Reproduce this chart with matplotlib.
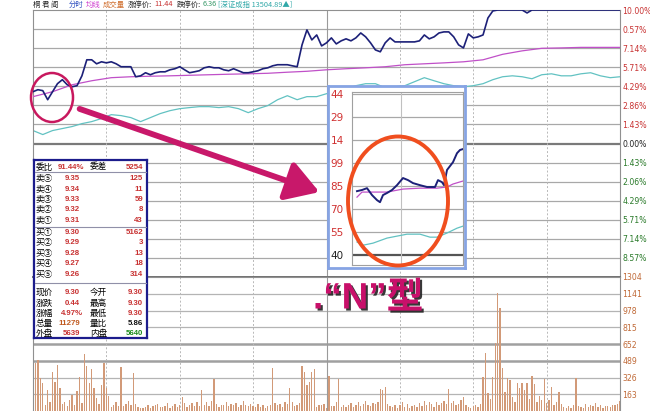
import numpy as np
import matplotlib.pyplot as plt
import matplotlib.patheffects as pe
from matplotlib.patches import Ellipse, FancyArrowPatch

plt.rcParams['font.family'] = ['DejaVu Sans', 'Noto Sans CJK SC']

# ---- data ----
# price line, % change, one point every 2 minutes (241-minute session)
price_pct = [3.88, 4.03, 3.96, 3.28, 3.88, 4.48, 4.78, 4.40, 4.25, 4.33,
             5.07, 6.27, 6.27, 5.97, 6.12, 6.04, 6.12, 5.97, 5.75, 5.75,
             5.75, 5.00, 5.07, 5.30, 5.15, 5.30, 5.37, 5.37, 5.52, 5.60,
             5.75, 5.52, 5.30, 5.37, 5.45, 5.67, 5.75, 5.67, 5.67, 5.52,
             5.45, 5.60, 5.45, 5.30, 5.30, 5.37, 5.45, 5.60, 5.67, 5.82,
             5.90, 5.90, 5.90, 5.82, 5.75, 7.39, 8.51, 7.76, 8.13, 7.31,
             7.54, 7.91, 7.46, 7.69, 7.84, 7.69, 7.91, 8.28, 7.99, 7.54,
             7.01, 6.87, 7.54, 7.91, 7.61, 7.61, 7.61, 7.61, 7.61, 7.69,
             8.13, 7.84, 7.99, 8.28, 8.36, 8.36, 7.99, 7.39, 7.16, 8.21,
             7.91, 7.99, 8.13, 9.40, 9.93, 10.0, 10.0, 10.0, 10.0, 10.0,
             10.0, 9.78, 10.0, 10.0, 10.0, 10.0, 10.0, 10.0, 10.0, 10.0,
             10.0, 10.0, 10.0, 10.0, 10.0, 10.0, 10.0, 10.0, 10.0, 10.0,
             10.0]
# average price line, every 8 minutes
avg_pct = [3.51, 3.88, 4.40, 4.70, 4.93, 5.00, 5.04, 5.07, 5.11, 5.15,
           5.19, 5.22, 5.26, 5.34, 5.41, 5.52, 5.60, 5.67, 5.75, 5.90,
           5.97, 6.04, 6.12, 6.27, 6.68, 6.94, 7.13, 7.16, 7.20, 7.20,
           7.20]
# index line, every 4 minutes
index_pct = [0.97, 0.67, 0.97, 1.12, 1.27, 1.49, 1.64, 1.87, 2.16, 2.09,
             1.94, 1.64, 1.94, 2.24, 2.46, 2.61, 2.69, 2.76, 2.76, 2.69,
             2.76, 2.61, 2.31, 2.61, 2.84, 3.28, 3.58, 3.28, 3.51, 3.51,
             3.73, 3.96, 4.10, 4.33, 4.48, 4.48, 4.18, 4.25, 4.33, 4.63,
             4.93, 4.70, 4.48, 4.33, 4.25, 4.33, 4.48, 4.78, 5.00, 5.07,
             5.00, 4.85, 5.15, 5.22, 5.07, 5.07, 5.22, 5.30, 5.07, 4.93,
             5.00]
# volume per minute
volume = [120, 467, 500, 321, 272, 60, 204, 90, 380, 282,
          448, 224, 70, 88, 45, 110, 156, 60, 195, 331,
          80, 555, 438, 272, 409, 224, 126, 70, 253, 467,
          224, 146, 40, 60, 85, 50, 428, 45, 70, 95,
          55, 370, 70, 35, 30, 25, 40, 55, 30, 45,
          60, 70, 40, 35, 50, 80, 30, 45, 65, 40,
          55, 136, 80, 40, 60, 75, 50, 90, 45, 204,
          60, 85, 50, 95, 311, 70, 40, 60, 55, 90,
          45, 70, 60, 80, 40, 55, 95, 60, 45, 70,
          50, 40, 65, 35, 55, 30, 45, 60, 418, 80,
          55, 70, 40, 90, 65, 224, 85, 50, 60, 75,
          438, 380, 253, 282, 380, 409, 40, 60, 55, 70,
          30, 340, 50, 45, 90, 311, 40, 60, 35, 55,
          75, 40, 60, 85, 50, 70, 95, 60, 45, 80,
          65, 90, 214, 204, 233, 70, 50, 40, 60, 30,
          55, 85, 40, 70, 30, 45, 60, 35, 80, 50,
          95, 60, 85, 70, 40, 90, 60, 75, 100, 65,
          214, 80, 95, 60, 70, 110, 136, 55, 40, 30,
          45, 60, 40, 70, 331, 564, 175, 120, 331, 662,
          1150, 1000, 418, 185, 321, 301, 136, 90, 272, 224,
          272, 204, 272, 120, 340, 263, 90, 150, 110, 311,
          80, 110, 233, 60, 90, 185, 70, 40, 30, 45,
          25, 60, 321, 50, 35, 25, 70, 40, 55, 45,
          78, 40, 60, 30, 45, 50, 35, 55, 60, 70,
          95]

pct_labels = ['10.00%', '0.57%', '7.14%', '5.71%', '4.29%', '2.86%', '1.43%',
              '0.00%', '1.43%', '2.06%', '4.29%', '5.71%', '7.14%', '8.57%']
vol_labels = ['1304', '1141', '978', '815', '652', '489', '326', '163']

# zoomed inset
inset_ticks = ['40', '55', '70', '85', '99', '14', '29', '44']
inset_x = [5, 10, 15, 20, 25, 28, 31, 35, 40, 45, 51, 56, 61, 68, 75, 83, 86,
           90, 92, 95, 98, 101, 105, 108, 111]
inset_price = [2.78, 2.83, 2.91, 2.61, 2.39, 2.30, 2.61, 2.70, 2.83, 3.04, 3.35,
               3.26, 3.13, 3.04, 2.96, 2.96, 3.26, 3.17, 3.04, 3.70, 3.87, 4.04,
               4.43, 4.57, 4.61]
inset_avg_x = [5, 10, 18, 35, 51, 68, 85, 95, 101, 111]
inset_avg = [2.52, 2.74, 2.74, 2.74, 2.87, 2.91, 2.91, 2.96, 3.09, 3.22]
inset_idx_x = [5, 11, 21, 35, 55, 68, 78, 85, 95, 105, 111]
inset_idx = [0.57, 0.43, 0.52, 0.74, 0.91, 0.91, 0.78, 0.78, 0.96, 1.17, 1.26]

# quote panel
book_names = ['卖⑤', '卖④', '卖③', '卖②', '卖①', '买①', '买②', '买③', '买④', '买⑤']
book_prices = ['9.35', '9.34', '9.33', '9.32', '9.31', '9.30', '9.29', '9.28', '9.27', '9.26']
book_vols = ['125', '11', '59', '8', '43', '5162', '3', '13', '18', '314']
stat_names1 = ['现价', '涨跌', '涨幅', '总量', '外盘']
stat_vals1 = ['9.30', '0.44', '4.97%', '11279', '5639']
stat_names2 = ['今开', '最高', '最低', '量比', '内盘']
stat_vals2 = ['9.30', '9.30', '9.30', '5.86', '5640']

W, H = 650, 411
fig = plt.figure(figsize=(6.5, 4.11), dpi=100)
fig.patch.set_facecolor('white')


def box(x0, y0, x1, y1):
    return [x0 / W, 1 - y1 / H, (x1 - x0) / W, (y1 - y0) / H]


RED = '#c83232'
GREEN = '#2a7a2a'
NAVY = '#1c2078'
MAG = '#c050c8'
TEAL = '#62c2c2'
t_all = np.arange(241)

# ---- price panel ----
ax = fig.add_axes(box(33, 10, 620, 277))
ax.set_xlim(0, 240)
ax.set_ylim(-10, 10)
levels = np.linspace(10, -10, 15)
for i, lv in enumerate(levels[1:-1], start=1):
    if i == 7:
        ax.axhline(lv, color='#7a7a7a', lw=1.6, zorder=1)
    else:
        ax.axhline(lv, color='#a8a8a8', lw=0.9, zorder=1)
for tv in [30, 60, 90, 150, 180, 210]:
    ax.axvline(tv, color='#b8b8b8', lw=0.7, ls=(0, (2, 2)), zorder=1)
ax.axvline(120, color='#9a9a9a', lw=0.8, zorder=1)
ax.plot(np.arange(0, 241, 4), index_pct, color=TEAL, lw=0.9, zorder=2)
ax.plot(np.arange(0, 241, 8), avg_pct, color=MAG, lw=0.9, zorder=3)
ax.plot(np.arange(0, 241, 2), price_pct, color=NAVY, lw=1.2, zorder=4)
ax.set_xticks([])
ax.yaxis.tick_right()
ax.set_yticks(levels[:-1])
ax.set_yticklabels(pct_labels)
ax.tick_params(axis='y', length=0, pad=1.5, labelsize=5.6)
for i, lab in enumerate(ax.get_yticklabels()):
    lab.set_color(RED if i < 7 else ('#222222' if i == 7 else GREEN))
for s in ax.spines.values():
    s.set_color('#909090')
    s.set_linewidth(0.8)
ax.spines['bottom'].set_color('#707070')
ax.spines['bottom'].set_linewidth(1.4)

# ---- volume panel ----
axv = fig.add_axes(box(33, 277, 620, 411))
axv.set_xlim(0, 240)
axv.set_ylim(0, 1304)
vlev = np.arange(1304, 0, -163)
for lv in vlev[1:]:
    thick = lv in (652, 489)
    axv.axhline(lv, color='#a0a0a0' if thick else '#b4b4b4', lw=1.8 if thick else 0.9, zorder=1)
for tv in [30, 60, 90, 150, 180, 210]:
    axv.axvline(tv, color='#b8b8b8', lw=0.7, ls=(0, (2, 2)), zorder=1)
axv.axvline(120, color='#9a9a9a', lw=0.8, zorder=1)
axv.bar(t_all, volume, width=0.55, color='#d29a78', zorder=2)
axv.set_xticks([])
axv.yaxis.tick_right()
axv.set_yticks(vlev)
axv.set_yticklabels(vol_labels)
axv.tick_params(axis='y', length=0, pad=1.5, labelsize=5.6, labelcolor='#c06a38')
for s in axv.spines.values():
    s.set_color('#909090')
    s.set_linewidth(0.8)
axv.spines['bottom'].set_visible(False)

# ---- inset frame and zoomed view ----
frame = fig.add_axes(box(328, 86, 465, 268))
frame.set_xticks([])
frame.set_yticks([])
for s in frame.spines.values():
    s.set_color('#86a4e4')
    s.set_linewidth(2)

ins = fig.add_axes(box(352, 92, 463, 265))
ins.set_xlim(0, 111)
ins.set_ylim(-0.43, 7.09)
for k in range(1, 8):
    ins.axhline(k, color='#a8a8a8', lw=0.9)
ins.axhline(0, color='#555555', lw=1.6)
ins.axvline(49, color='#c0c0c0', lw=0.8)
ins.plot(inset_idx_x, inset_idx, color=TEAL, lw=0.9)
ins.plot(inset_avg_x, inset_avg, color=MAG, lw=0.9)
ins.plot(inset_x, inset_price, color=NAVY, lw=1.4)
ins.set_xticks([])
ins.set_yticks(range(8))
ins.set_yticklabels(inset_ticks)
ins.tick_params(axis='y', length=0, pad=6, labelsize=7.5)
for i, lab in enumerate(ins.get_yticklabels()):
    lab.set_color('#222222' if i == 0 else '#d03030')
for s in ins.spines.values():
    s.set_color('#a0a0a0')
    s.set_linewidth(0.8)

# ---- quote panel frame ----
tab = fig.add_axes(box(34, 160, 147, 338))
tab.set_xticks([])
tab.set_yticks([])
for s in tab.spines.values():
    s.set_color('#1c1c8c')
    s.set_linewidth(1.6)

# ---- overlay in pixel coordinates ----
over = fig.add_axes([0, 0, 1, 1])
over.set_xlim(0, W)
over.set_ylim(H, 0)
over.axis('off')

cjk = ['Noto Sans CJK SC', 'DejaVu Sans']
num = ['Liberation Sans', 'DejaVu Sans']
fs = 6.2
fn = 5.7

over.text(36, 167, '委比', fontsize=fs, family=cjk, va='center')
over.text(84, 167, '91.44%', fontsize=fn, family=num, weight='bold', color=RED, va='center', ha='right')
over.text(90, 167, '委差', fontsize=fs, family=cjk, va='center')
over.text(143, 167, '5254', fontsize=fn, family=num, weight='bold', color=RED, va='center', ha='right')
rows_y = [178, 189, 199, 209, 220, 232, 242, 253, 263, 274]
for y, n, p, v in zip(rows_y, book_names, book_prices, book_vols):
    over.text(36, y, n, fontsize=fs, family=cjk, va='center')
    over.text(80, y, p, fontsize=fn, family=num, weight='bold', color=RED, va='center', ha='right')
    over.text(143, y, v, fontsize=fn, family=num, weight='bold', color=RED, va='center', ha='right')
stat_y = [292, 303, 313, 323, 333]
c1 = [RED, RED, RED, '#c05a20', RED]
c2 = [RED, RED, RED, '#111111', '#1a8a1a']
for i, y in enumerate(stat_y):
    over.text(36, y, stat_names1[i], fontsize=fs, family=cjk, va='center')
    over.text(80 if i != 2 else 83, y, stat_vals1[i], fontsize=fn, family=num, weight='bold',
              color=c1[i], va='center', ha='right')
    over.text(90, y, stat_names2[i], fontsize=fs, family=cjk, va='center')
    over.text(143, y, stat_vals2[i], fontsize=fn, family=num, weight='bold', color=c2[i], va='center', ha='right')
for y in [172.5, 226.5, 283]:
    over.plot([35, 146], [y, y], color='#9090a8', lw=0.8)

# header line
header = [(33, '桐 君 阁', '#222222'), (69, '分时', '#3050c0'), (86, '均线', '#d040d0'),
          (103, '成交量', '#d07030'), (128, '涨停价:', '#222222'), (154, '11.44', RED),
          (177, '跌停价:', '#222222'), (203, '6.36', '#3a9a6a'),
          (218, '[深证成指 13504.89▲]', '#30a8a8')]
for x, s, c in header:
    over.text(x, 4.5, s, fontsize=5.3, family=cjk, color=c, va='center')

# annotations
over.add_patch(Ellipse((52, 97.5), 42, 49, fill=False, ec='#c8185e', lw=1.8))
over.add_patch(FancyArrowPatch((77, 108), (322, 193),
                               arrowstyle='-|>,head_length=0.9,head_width=0.55',
                               mutation_scale=22, lw=4.2, color='#c8186a'))
over.add_patch(Ellipse((398, 201), 100, 129, fill=False, ec='#f04e1e', lw=2.8))
over.text(313, 299, '.“N”型', fontsize=26.5, fontweight='bold', color='#c8106a',
          family=['Liberation Sans', 'Noto Sans CJK SC'], va='center', ha='left',
          path_effects=[pe.SimplePatchShadow(offset=(1.5, -1.5), shadow_rgbFace='#222222', alpha=0.9),
                        pe.Normal()])

fig.savefig('out.png', dpi=100)
